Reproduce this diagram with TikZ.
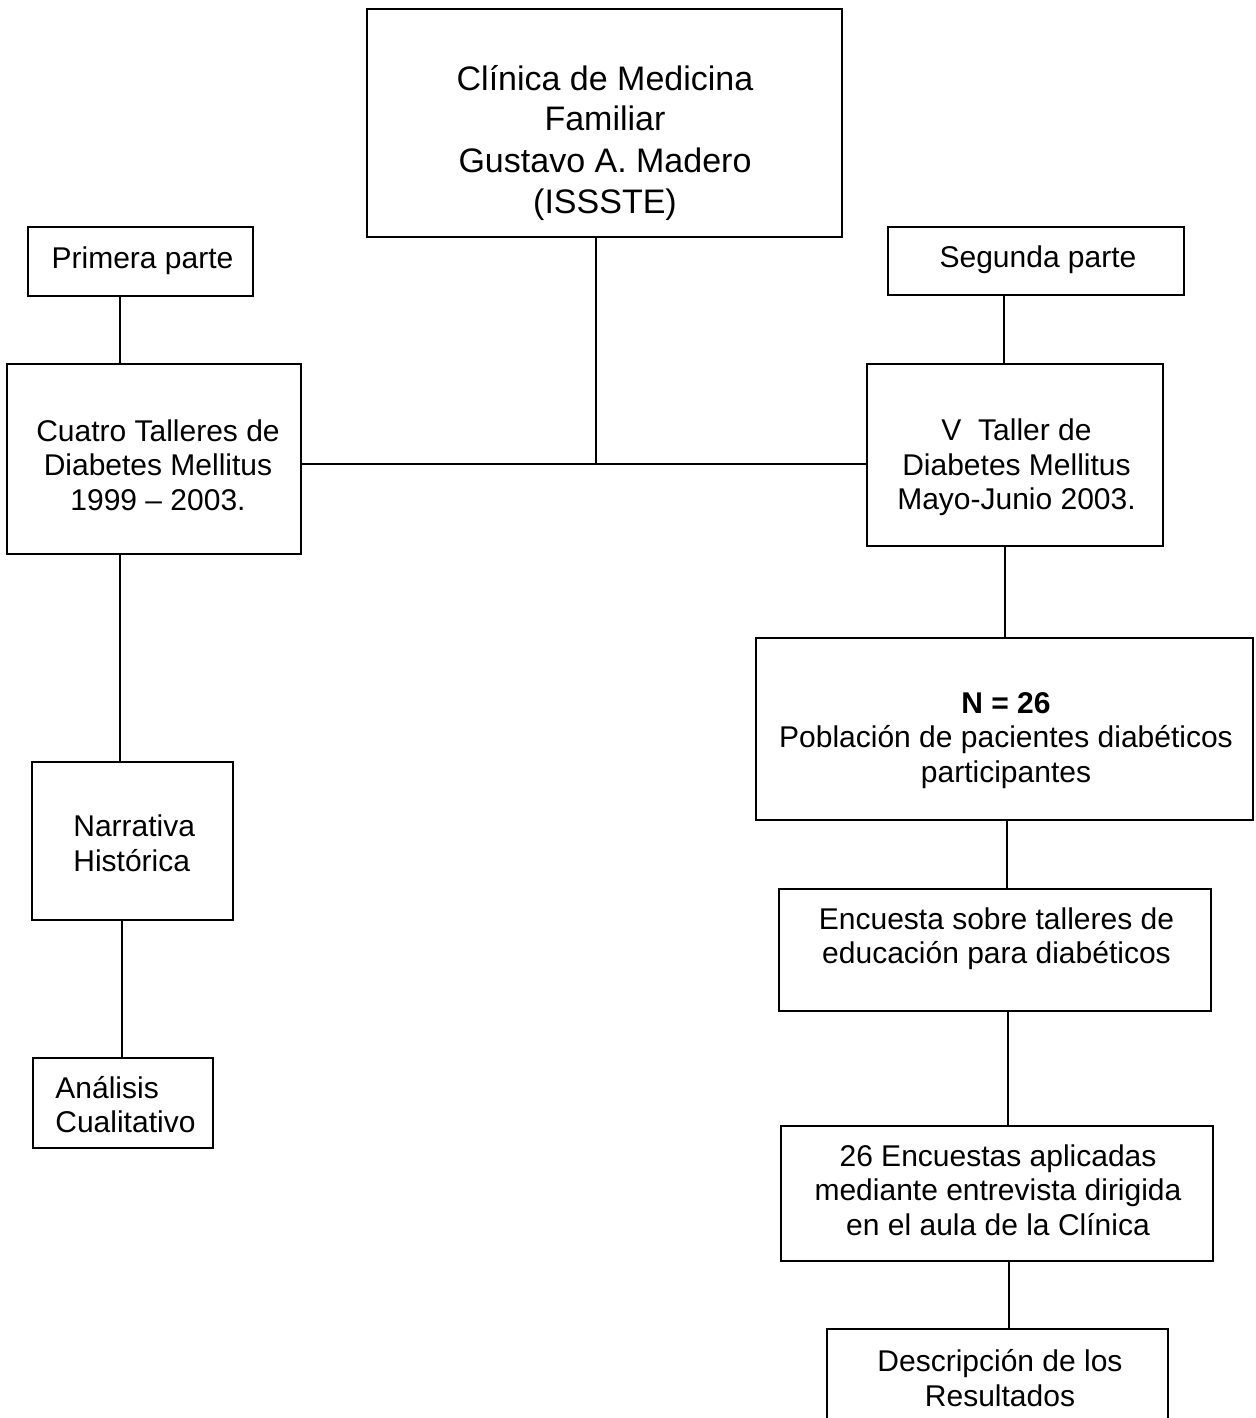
\documentclass[tikz,border=0pt]{standalone}
\usepackage{fontspec}
\setmainfont{Liberation Sans}
\begin{document}
\begin{tikzpicture}[x=0.5pt,y=-0.5pt,
  boxst/.style={draw=black,line width=1pt,rectangle,inner sep=0pt},
  txt/.style={inner sep=0pt,align=center,font=\fontsize{15}{17.25}\selectfont},
  bigtxt/.style={inner sep=0pt,align=center,font=\fontsize{17}{20.5}\selectfont},
  link/.style={draw=black,line width=1pt}]
\useasboundingbox (0,0) rectangle (1256,1418);
\clip (0,0) rectangle (1256,1418);
\fill[white] (0,0) rectangle (1256,1418);
% boxes
\node[boxst,minimum width=237.5pt,minimum height=114pt] (top) at (604.5,123) {};
\node[boxst,minimum width=112.5pt,minimum height=34.5pt] (prim) at (140.5,261.5) {};
\node[boxst,minimum width=148pt,minimum height=34pt] (seg) at (1036,261) {};
\node[boxst,minimum width=147pt,minimum height=95pt] (cuatro) at (154,459) {};
\node[boxst,minimum width=148pt,minimum height=91pt] (vt) at (1015,455) {};
\node[boxst,minimum width=248.5pt,minimum height=91pt] (n) at (1004.5,729) {};
\node[boxst,minimum width=100.5pt,minimum height=79pt] (nar) at (132.5,841) {};
\node[boxst,minimum width=90pt,minimum height=45pt] (ana) at (123,1103) {};
\node[boxst,minimum width=216pt,minimum height=61pt] (enc) at (995,950) {};
\node[boxst,minimum width=216pt,minimum height=67.5pt] (enc26) at (997,1193.5) {};
\node[boxst,minimum width=170.5pt,minimum height=75.5pt] (desc) at (997.5,1404.5) {};
% texts
\node[bigtxt] (ttop) at (605,142.5) {Clínica de Medicina\\Familiar\\Gustavo A. Madero\\(ISSSTE)};
\node[txt] (tprim) at (142.5,261) {Primera parte};
\node[txt] (tseg) at (1038,260) {Segunda parte};
\node[txt] (tcuatro) at (158,465) {Cuatro Talleres de\\Diabetes Mellitus\\1999 – 2003.};
\node[txt] (tvt) at (1016.5,467.5) {V~ Taller de\\Diabetes Mellitus\\Mayo-Junio 2003.};
\node[txt] (tn) at (1006,740.5) {\textbf{N = 26}\\Población de pacientes diabéticos\\participantes};
\node[txt,align=left,anchor=west] (tnar) at (73,843.5) {Narrativa\\Histórica};
\node[txt,align=left,anchor=west] (tana) at (55,1104.5) {Análisis\\Cualitativo};
\node[txt] (tenc) at (996.5,938.7) {Encuesta sobre talleres de\\educación para diabéticos};
\node[txt] (tenc26) at (998,1190) {26 Encuestas aplicadas\\mediante entrevista dirigida\\en el aula de la Clínica};
\node[txt] (tdesc) at (1000,1378) {Descripción de los\\Resultados};
% connectors
\coordinate (jx) at (596,464);
\coordinate (xa) at (120,0);
\coordinate (xb) at (122,0);
\coordinate (xc) at (1003.5,0);
\coordinate (xd) at (1006.5,0);
\coordinate (xe) at (1007.5,0);
\coordinate (xf) at (1008.5,0);
\draw[link] (top.south -| jx) -- (jx);
\draw[link] (cuatro.east |- jx) -- (vt.west |- jx);
\draw[link] (prim.south -| xa) -- (cuatro.north -| xa);
\draw[link] (cuatro.south -| xa) -- (nar.north -| xa);
\draw[link] (nar.south -| xb) -- (ana.north -| xb);
\draw[link] (seg.south -| xc) -- (vt.north -| xc);
\draw[link] (vt.south -| n.north) -- (n.north);
\draw[link] (n.south -| xd) -- (enc.north -| xd);
\draw[link] (enc.south -| xe) -- (enc26.north -| xe);
\draw[link] (enc26.south -| xf) -- (desc.north -| xf);
\end{tikzpicture}
\end{document}
